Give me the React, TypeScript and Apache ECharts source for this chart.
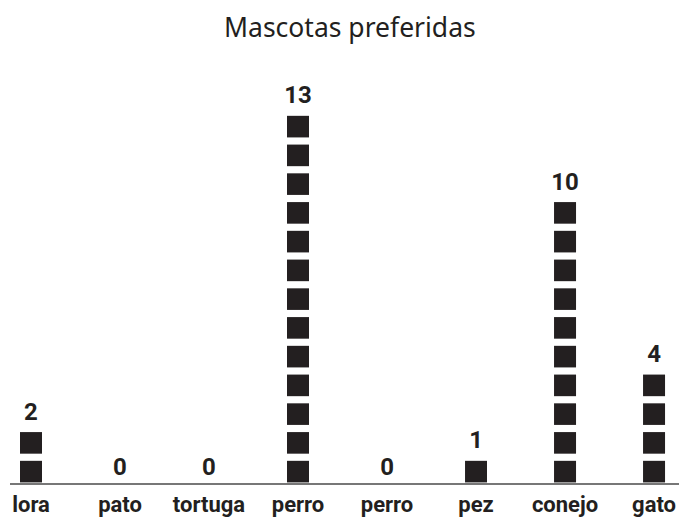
import React, { useEffect, useRef } from "react";
import * as echarts from "echarts";

const title = "Mascotas preferidas";
const categories = ["lora", "pato", "tortuga", "perro", "perro", "pez", "conejo", "gato"];
const values = [2, 0, 0, 13, 0, 1, 10, 4];
const yMax = 14;

export default function App() {
  const ref = useRef<HTMLDivElement>(null);
  useEffect(() => {
    if (!ref.current) return;
    const chart = echarts.init(ref.current, undefined, { renderer: "svg" });
    const ink = "#231f20";
    const H = 518;
    const gridBottom = 34;
    const unitPx = 28.75;
    const gridTop = H - gridBottom - unitPx * yMax;
    const symH = 21.5;
    const margin = ((unitPx + 0.3 - symH) / 2).toFixed(3) + "!";
    chart.setOption({
      animation: false,
      backgroundColor: "#ffffff",
      title: {
        text: title,
        left: 224,
        top: 8,
        padding: [5, 0, 5, 0],
        textStyle: { fontFamily: "Noto Sans", fontSize: 26.5, fontWeight: "normal", color: ink },
      },
      grid: { left: 31, right: 23, top: gridTop, bottom: gridBottom, containLabel: false },
      xAxis: {
        type: "category",
        data: categories,
        boundaryGap: false,
        axisLine: { show: false },
        axisTick: { show: false },
        axisLabel: {
          interval: 0,
          margin: 9,
          color: ink,
          fontFamily: "Roboto",
          fontWeight: "bold",
          fontSize: 22,
        },
      },
      yAxis: {
        type: "value",
        min: 0,
        max: yMax,
        show: false,
        splitLine: { show: false },
      },
      graphic: [
        {
          type: "line",
          shape: { x1: 10, y1: H - gridBottom, x2: 679, y2: H - gridBottom },
          style: { stroke: "#4a4a4a", lineWidth: 1.6 },
        },
      ],
      series: [
        {
          type: "pictorialBar",
          data: values,
          symbol: "rect",
          symbolSize: [22, symH],
          symbolRepeat: true,
          symbolMargin: margin,
          symbolOffset: [0, 2],
          itemStyle: { color: ink },
          barWidth: 40,
          label: {
            show: true,
            position: "top",
            distance: 3,
            color: ink,
            fontFamily: "Roboto",
            fontWeight: "bold",
            fontSize: 24,
            formatter: "{c}",
          },
        },
      ],
    });
    return () => chart.dispose();
  }, []);
  return (
    <div
      ref={ref}
      style={{ position: "absolute", left: 0, top: 0, width: 679, height: 518 }}
    />
  );
}
